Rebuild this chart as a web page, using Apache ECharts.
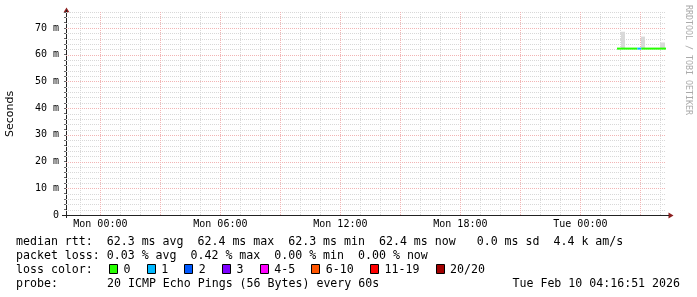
<!DOCTYPE html>
<html><head><meta charset="utf-8">
<script src="https://cdn.jsdelivr.net/npm/echarts@6/dist/echarts.min.js"></script>
<style>html,body{margin:0;padding:0;background:#fff}#c{width:697px;height:297px}</style>
</head><body><div id="c"></div>
<script>
// ---- axis ranges & ticks (hours relative to Mon 00:00) ----
const xMinHours = -1.71917;   // Sun 22:16:51
const xMaxHours = 28.28083;   // Tue 04:16:51
const xLabelHours = [0, 6, 12, 18, 24];
const xLabelTexts = ['Mon 00:00', 'Mon 06:00', 'Mon 12:00', 'Mon 18:00', 'Tue 00:00'];
const xMajorGrid = [0, 3, 6, 9, 12, 15, 18, 21, 24, 27];
const xMinorGrid = [-1, 1, 2, 4, 5, 7, 8, 10, 11, 13, 14, 16, 17, 19, 20, 22, 23, 25, 26, 28];
const yMin = 0, yMax = 76;
const yLabelValues = [0, 10, 20, 30, 40, 50, 60, 70];
const yLabelTexts = ['0', '10 m', '20 m', '30 m', '40 m', '50 m', '60 m', '70 m'];
const yMajorGrid = [10, 20, 30, 40, 50, 60, 70];
const yMinorGrid = [2, 4, 6, 8, 12, 14, 16, 18, 22, 24, 26, 28, 32, 34, 36, 38, 42, 44, 46, 48, 52, 54, 56, 58, 62, 64, 66, 68, 72, 74, 76];

// ---- smoke (ms) ----
const smokeStart = [26.03, 27.03, 28.0];
const smokeEnd   = [26.25, 27.25, 28.25];
const smokeLow   = [62.2, 62.2, 62.2];
const smokeHigh  = [68.6, 66.8, 64.6];

// ---- median rtt segments (ms) with loss class ----
const medianStart = [25.83, 26.85, 27.05];
const medianEnd   = [26.85, 27.05, 28.28];
const medianValue = [62.3, 62.3, 62.3];
const medianLoss  = [0, 1, 0];

// ---- legend ----
const lossLabels = ['0', '1', '2', '3', '4-5', '6-10', '11-19', '20/20'];
const lossColors = ['#26ff00', '#00b8ff', '#0059ff', '#7e00ff', '#ff00ff', '#ff5500', '#ff0000', '#a10000'];
const statsLines = [
  'median rtt:  62.3 ms avg  62.4 ms max  62.3 ms min  62.4 ms now   0.0 ms sd  4.4 k am/s',
  'packet loss: 0.03 % avg  0.42 % max  0.00 % min  0.00 % now'
];
const probeText = '20 ICMP Echo Pings (56 Bytes) every 60s';
const stampText = 'Tue Feb 10 04:16:51 2026';
const watermark = 'RRDTOOL / TOBI OETIKER';

const MONO = '"DejaVu Sans Mono", monospace';
const LF = '11.6px ' + MONO;
const CW = 6.98;

function vGrid(color) {
  return function (params, api) {
    const cs = params.coordSys;
    const x = Math.round(api.coord([api.value(0), 0])[0]) + 0.5;
    return {type: 'line', silent: true,
      shape: {x1: x, y1: cs.y, x2: x, y2: cs.y + cs.height},
      style: {stroke: color, lineWidth: 1, lineDash: [1, 1]}};
  };
}
function hGrid(color) {
  return function (params, api) {
    const cs = params.coordSys;
    const y = Math.round(api.coord([xMinHours, api.value(1)])[1]) + 0.5;
    return {type: 'line', silent: true,
      shape: {x1: cs.x, y1: y, x2: cs.x + cs.width, y2: y},
      style: {stroke: color, lineWidth: 1, lineDash: [1, 1]}};
  };
}

const graphics = [];
// axis arrows
graphics.push({type: 'polygon', silent: true, shape: {points: [[66.5, 7.5], [63.5, 12.5], [69.5, 12.5]]}, style: {fill: '#8b1e1e'}});
graphics.push({type: 'polygon', silent: true, shape: {points: [[673.5, 215.5], [668.5, 212.5], [668.5, 218.5]]}, style: {fill: '#8b1e1e'}});
graphics.push({type: 'line', silent: true, shape: {x1: 62, y1: 215.5, x2: 669, y2: 215.5}, style: {stroke: '#222', lineWidth: 1}});
graphics.push({type: 'line', silent: true, shape: {x1: 66.5, y1: 10, x2: 66.5, y2: 218}, style: {stroke: '#222', lineWidth: 1}});
// y title
graphics.push({type: 'text', silent: true, x: 10, y: 114, rotation: Math.PI / 2,
  style: {text: 'Seconds', font: '11px "DejaVu Sans", sans-serif', fill: '#000', align: 'center', verticalAlign: 'middle'}});
// watermark
graphics.push({type: 'text', silent: true, x: 688, y: 60, rotation: -Math.PI / 2,
  style: {text: watermark, font: '8.3px ' + MONO, fill: '#aaa', align: 'center', verticalAlign: 'middle'}});
// stats lines
const lineY = [241.5, 255.5, 269.5, 283.5];
statsLines.forEach(function (t, i) {
  graphics.push({type: 'text', silent: true, x: 16, y: lineY[i],
    style: {text: t, font: LF, fill: '#000', verticalAlign: 'middle'}});
});
graphics.push({type: 'text', silent: true, x: 16, y: lineY[2], style: {text: 'loss color:', font: LF, fill: '#000', verticalAlign: 'middle'}});
let bx = 109;
lossLabels.forEach(function (lab, i) {
  graphics.push({type: 'rect', silent: true, shape: {x: Math.round(bx) + 0.5, y: 264.5, width: 8, height: 9},
    style: {fill: lossColors[i], stroke: '#000', lineWidth: 1}});
  graphics.push({type: 'text', silent: true, x: bx + 14.5, y: lineY[2],
    style: {text: lab, font: LF, fill: '#000', verticalAlign: 'middle'}});
  bx = bx + 14.5 + lab.length * CW + 16.2;
});
graphics.push({type: 'text', silent: true, x: 16, y: lineY[3], style: {text: 'probe:', font: LF, fill: '#000', verticalAlign: 'middle'}});
graphics.push({type: 'text', silent: true, x: 107, y: lineY[3], style: {text: probeText, font: LF, fill: '#000', verticalAlign: 'middle'}});
graphics.push({type: 'text', silent: true, x: 680, y: lineY[3], style: {text: stampText, font: LF, fill: '#000', align: 'right', verticalAlign: 'middle'}});

const chart = echarts.init(document.getElementById('c'), null, {renderer: 'canvas'});
chart.setOption({
  animation: false,
  backgroundColor: '#fff',
  grid: {left: 66, right: 31, top: 12, bottom: 82, containLabel: false},
  xAxis: {
    type: 'value', min: xMinHours, max: xMaxHours,
    splitLine: {show: false},
    axisLine: {show: true, onZero: false, lineStyle: {color: '#222', width: 1}},
    axisTick: {show: false},
    axisLabel: {
      customValues: xLabelHours, margin: 4,
      fontFamily: 'DejaVu Sans Mono', fontSize: 10, color: '#000',
      formatter: function (v) { const i = xLabelHours.indexOf(Math.round(v)); return i >= 0 ? xLabelTexts[i] : ''; }
    }
  },
  yAxis: {
    type: 'value', min: yMin, max: yMax,
    splitLine: {show: false},
    axisLine: {show: true, onZero: false, lineStyle: {color: '#222', width: 1}},
    axisTick: {show: true, length: 2, customValues: yMajorGrid.concat(yMinorGrid), lineStyle: {color: '#666'}},
    axisLabel: {
      customValues: yLabelValues, margin: 7,
      fontFamily: 'DejaVu Sans Mono', fontSize: 10, color: '#000',
      formatter: function (v) { const i = yLabelValues.indexOf(Math.round(v)); return i >= 0 ? yLabelTexts[i] : ''; }
    }
  },
  series: [
    {type: 'custom', silent: true, z: 1, renderItem: vGrid('#d8d8d8'), data: xMinorGrid.map(function (h) { return [h, 0]; })},
    {type: 'custom', silent: true, z: 1, renderItem: hGrid('#d8d8d8'), data: yMinorGrid.map(function (v) { return [xMinHours, v]; })},
    {type: 'custom', silent: true, z: 1, renderItem: vGrid('#f2b4b4'), data: xMajorGrid.map(function (h) { return [h, 0]; })},
    {type: 'custom', silent: true, z: 1, renderItem: hGrid('#f2b4b4'), data: yMajorGrid.map(function (v) { return [xMinHours, v]; })},
    {type: 'custom', silent: true, z: 2,
      data: smokeStart.map(function (s, i) { return [s, smokeEnd[i], smokeLow[i], smokeHigh[i]]; }),
      renderItem: function (params, api) {
        const p0 = api.coord([api.value(0), api.value(3)]);
        const p1 = api.coord([api.value(1), api.value(2)]);
        return {type: 'rect', shape: {x: Math.round(p0[0]), y: p0[1], width: Math.round(p1[0]) - Math.round(p0[0]), height: p1[1] - p0[1]},
          style: {fill: '#d9d9d9'}};
      }},
    {type: 'custom', silent: true, z: 3,
      data: medianStart.map(function (s, i) { return [s, medianEnd[i], medianValue[i], medianLoss[i]]; }),
      renderItem: function (params, api) {
        const p0 = api.coord([api.value(0), api.value(2)]);
        const p1 = api.coord([api.value(1), api.value(2)]);
        return {type: 'line', shape: {x1: p0[0], y1: p0[1], x2: p1[0], y2: p1[1]},
          style: {stroke: lossColors[api.value(3)], lineWidth: 2}};
      }}
  ],
  graphic: graphics
});
</script>
</body></html>
